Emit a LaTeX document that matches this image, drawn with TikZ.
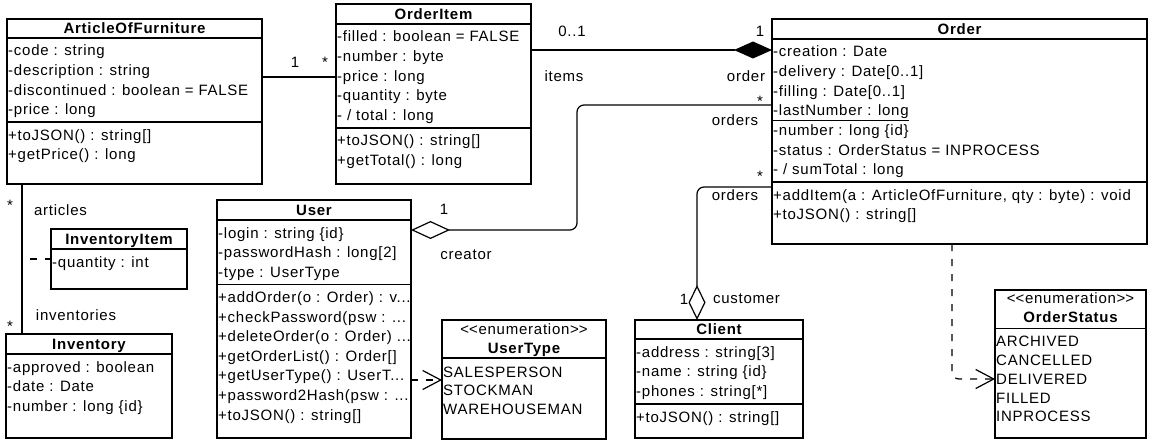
\documentclass[tikz,border=0pt]{standalone}
\usepackage{fontspec}
\setmainfont{Liberation Sans}[LetterSpace=5]
\usetikzlibrary{arrows.meta}
\newcommand\umlfont{\fontsize{15}{18}\selectfont}
\newcommand\trdots{...}
\begin{document}
\begin{tikzpicture}[x=1pt,y=-1pt,
  box/.style={draw, line width=1.2pt, anchor=north west, inner sep=0pt, outer sep=0pt},
  sepline/.style={line width=1.2pt},
  rowtxt/.style={anchor=base west, inner sep=0pt, font=\umlfont},
  hdr/.style={anchor=center, inner sep=0pt, font=\umlfont\bfseries, text height=10.7pt, text depth=0pt},
  enumhdr/.style={anchor=base, inner sep=0pt, font=\umlfont},
  lbl/.style={anchor=center, inner sep=0pt, font=\umlfont},
  conn/.style={line width=1.2pt},
  dashln/.style={dash pattern=on 7pt off 8pt},
  dep/.style={conn, dashln, -{Straight Barb[length=18pt,width=19pt]}}]
\useasboundingbox (0,0) rectangle (1152,444);
\fill[white] (0,0) rectangle (1152,444);

% ---------- boxes ----------
\node[box, minimum width=255pt, minimum height=165pt] (aof) at (7,19) {};
\node[box, minimum width=195pt, minimum height=180pt] (oi) at (336,4) {};
\node[box, minimum width=375pt, minimum height=225pt] (order) at (772,19) {};
\node[box, minimum width=136pt, minimum height=60pt] (ii) at (51,229) {};
\node[box, minimum width=166pt, minimum height=104pt] (inv) at (6,334) {};
\node[box, minimum width=194pt, minimum height=238pt] (user) at (217,200) {};
\node[box, minimum width=164pt, minimum height=119pt] (ut) at (442,320) {};
\node[box, minimum width=168pt, minimum height=118pt] (client) at (635,320) {};
\node[box, minimum width=151pt, minimum height=148pt] (os) at (995,290) {};

% ---------- compartment lines ----------
\draw[sepline] (aof.west |- 0,38) -- (aof.east |- 0,38);
\draw[sepline] (aof.west |- 0,122) -- (aof.east |- 0,122);
\draw[sepline] (oi.west |- 0,24) -- (oi.east |- 0,24);
\draw[sepline] (oi.west |- 0,128) -- (oi.east |- 0,128);
\draw[sepline] (order.west |- 0,39) -- (order.east |- 0,39);
\draw[sepline] (order.west |- 0,182) -- (order.east |- 0,182);
\draw[sepline] (ii.west |- 0,249) -- (ii.east |- 0,249);
\draw[sepline] (inv.west |- 0,354) -- (inv.east |- 0,354);
\draw[sepline] (user.west |- 0,220) -- (user.east |- 0,220);
\draw[sepline] (user.west |- 0,284.5) -- (user.east |- 0,284.5);
\draw[sepline] (ut.west |- 0,358) -- (ut.east |- 0,358);
\draw[sepline] (client.west |- 0,339) -- (client.east |- 0,339);
\draw[sepline] (client.west |- 0,404) -- (client.east |- 0,404);
\draw[sepline] (os.west |- 0,328.5) -- (os.east |- 0,328.5);

% ---------- headers ----------
\node[hdr] (aofH) at (134.5,28.5) {ArticleOfFurniture};
\node[hdr] (oiH) at (433.5,14) {OrderItem};
\node[hdr] (orderH) at (959.5,29) {Order};
\node[hdr] (iiH) at (119,239) {InventoryItem};
\node[hdr] (invH) at (89,344) {Inventory};
\node[hdr] (userH) at (314,210) {User};
\node[hdr] (clientH) at (719,329.5) {Client};
\node[enumhdr] (utS) at (524,334) {<\kern0pt<enumeration>\kern0pt>};
\node[enumhdr, font=\umlfont\bfseries] (utH) at (524,353) {UserType};
\node[enumhdr] (osS) at (1070.5,303) {<\kern0pt<enumeration>\kern0pt>};
\node[enumhdr, font=\umlfont\bfseries] (osH) at (1070.5,322) {OrderStatus};

% ---------- rows ----------
\foreach \t [count=\i from 0] in {-code : string, -description : string, -discontinued : boolean = FALSE, -price : long}
  \node[rowtxt] (aofA\i) at (8,{56+19.6*\i}) {\t};
\foreach \t [count=\i from 0] in {+toJSON() : string[], +getPrice() : long}
  \node[rowtxt] (aofM\i) at (8,{140+19.6*\i}) {\t};

\foreach \t [count=\i from 0] in {-filled : boolean = FALSE, -number : byte, -price : long, -quantity : byte, - / total : long}
  \node[rowtxt] (oiA\i) at (337,{42+19.6*\i}) {\t};
\foreach \t [count=\i from 0] in {+toJSON() : string[], +getTotal() : long}
  \node[rowtxt] (oiM\i) at (337,{146+19.6*\i}) {\t};

\foreach \t [count=\i from 0] in {-creation : Date, -delivery : Date[0..1], -filling : Date[0..1], \underline{-lastNumber : long}, -number : long \{id\}, -status : OrderStatus = INPROCESS, - / sumTotal : long}
  \node[rowtxt] (orderA\i) at (773,{57+19.6*\i}) {\t};
\foreach \t [count=\i from 0] in {{+addItem(a : ArticleOfFurniture, qty : byte) : void}, +toJSON() : string[]}
  \node[rowtxt] (orderM\i) at (773,{200+19.6*\i}) {\t};

\node[rowtxt] (iiA0) at (52,267) {-quantity : int};

\foreach \t [count=\i from 0] in {-approved : boolean, -date : Date, -number : long \{id\}}
  \node[rowtxt] (invA\i) at (7,{372+19.6*\i}) {\t};

\foreach \t [count=\i from 0] in {-login : string \{id\}, -passwordHash : long[2], -type : UserType}
  \node[rowtxt] (userA\i) at (218,{238+19.6*\i}) {\t};
\foreach \t [count=\i from 0] in {+addOrder(o : Order) : v\trdots, +checkPassword(psw : \trdots, +deleteOrder(o : Order) \trdots, +getOrderList() : Order[], +getUserType() : UserT\trdots, +password2Hash(psw : \trdots, +toJSON() : string[]}
  \node[rowtxt] (userM\i) at (218,{302.5+19.6*\i}) {\t};

\foreach \t [count=\i from 0] in {SALESPERSON, STOCKMAN, WAREHOUSEMAN}
  \node[rowtxt] (utV\i) at (443,{377+18.8*\i}) {\t};

\foreach \t [count=\i from 0] in {-address : string[3], -name : string \{id\}, -phones : string[*]}
  \node[rowtxt] (clientA\i) at (636,{357+19.6*\i}) {\t};
\node[rowtxt] (clientM0) at (636,422) {+toJSON() : string[]};

\foreach \t [count=\i from 0] in {ARCHIVED, CANCELLED, DELIVERED, FILLED, INPROCESS}
  \node[rowtxt] (osV\i) at (996,{346.7+18.8*\i}) {\t};

% ---------- connectors ----------
\coordinate (xinv) at (22,0);
\coordinate (bendA) at (577,105);
\coordinate (xcl) at (697,0);
\coordinate (xos) at (952,0);

\draw[conn] (xinv |- aof.south) -- (xinv |- inv.north);
\draw[conn, dashln, dash phase=7pt] (xinv |- ii.west) -- (ii.west);
\draw[conn] (aof.east |- 0,77) -- (oi.west |- 0,77);
\draw[conn, -{Diamond[length=38pt,width=17pt]}] (oi.east |- 0,50) -- (order.west |- 0,50);
\draw[conn, {Diamond[open,length=39pt,width=18pt]}-, rounded corners=7pt] (user.east |- 0,230) -| (bendA) -- (order.west |- bendA);
\draw[conn, {Diamond[open,length=35pt,width=17pt]}-, rounded corners=7pt] (xcl |- client.north) |- (order.west |- 0,187);
\draw[dep] (user.east |- 0,380) -- (ut.west |- 0,380);
\draw[dep, rounded corners=7pt] (xos |- order.south) |- (os.west |- 0,379);

% ---------- labels ----------
\node[lbl] (m1) at (295,62) {1};
\node[lbl] (m2) at (325,62) {*};
\node[lbl] (m3) at (572,31) {0..1};
\node[lbl] (m4) at (760,31) {1};
\node[lbl] (r1) at (564,76) {items};
\node[lbl] (r2) at (746,76) {order};
\node[lbl] (m5) at (760,101) {*};
\node[lbl] (r3) at (735,120) {orders};
\node[lbl] (m6) at (760,176) {*};
\node[lbl] (r4) at (735,195) {orders};
\node[lbl] (m7) at (444,209) {1};
\node[lbl] (r5) at (466,255) {creator};
\node[lbl] (m8) at (684,299) {1};
\node[lbl] (r6) at (746.5,299) {customer};
\node[lbl] (m9) at (10,205) {*};
\node[lbl] (r7) at (60.5,210) {articles};
\node[lbl] (r8) at (76,315) {inventories};
\node[lbl] (m10) at (10,326) {*};
\end{tikzpicture}
\end{document}
